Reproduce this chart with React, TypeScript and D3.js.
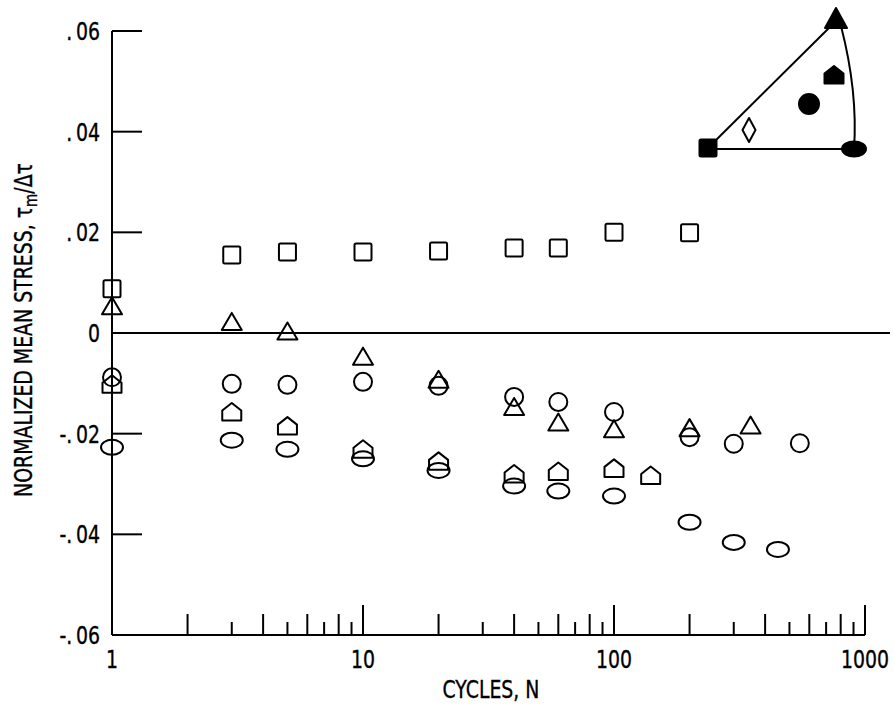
import * as d3 from 'd3';

const W = 894;
const H = 708;

// cycles N and normalized mean stress for each symbol series
const squareN = [1, 3, 5, 10, 20, 40, 60, 100, 200];
const squareV = [0.0088, 0.0155, 0.0161, 0.0161, 0.0163, 0.0169, 0.0169, 0.02, 0.0199];

const triangleN = [1, 3, 5, 10, 20, 40, 60, 100, 200, 350];
const triangleV = [0.0054, 0.0023, 0.0004, -0.0046, -0.0092, -0.0146, -0.0177, -0.019, -0.0188, -0.0183];

const circleN = [1, 3, 5, 10, 20, 40, 60, 100, 200, 300, 550];
const circleV = [-0.0088, -0.0101, -0.0103, -0.0097, -0.0105, -0.0127, -0.0137, -0.0157, -0.0207, -0.022, -0.0219];

const houseN = [1, 3, 5, 10, 20, 40, 60, 100, 140];
const houseV = [-0.0102, -0.0157, -0.0185, -0.0231, -0.0255, -0.028, -0.0275, -0.0269, -0.0283];

const ellipseN = [1, 3, 5, 10, 20, 40, 60, 100, 200, 300, 450];
const ellipseV = [-0.0227, -0.0213, -0.0231, -0.025, -0.0273, -0.0304, -0.0314, -0.0324, -0.0376, -0.0416, -0.043];

const xTickLabels = ['1', '10', '100', '1000'];
const yTickLabels = ['-.\u200906', '-.\u200904', '-.\u200902', '0', '.\u200902', '.\u200904', '.\u200906'];

const FONT = "'DejaVu Sans Condensed', 'Liberation Sans Narrow', sans-serif";
const FS = 25;
const SX = 0.84; // squeeze glyphs to look like the narrow lettering of the original

const xScale = d3.scaleLog().domain([1, 1000]).range([112, 865]);
const yScale = d3.scaleLinear().domain([-0.06, 0.06]).range([635, 31]);

type Shape = 'square' | 'triangle' | 'circle' | 'house' | 'ellipse' | 'diamond';

// narrow text: translated, optionally rotated, then squeezed along the reading direction
function Label({ x, y, anchor = 'middle', rotate = 0, children }: any) {
  return (
    <g transform={`translate(${x},${y}) rotate(${rotate}) scale(${SX},1)`}>
      <text
        textAnchor={anchor}
        fontFamily={FONT}
        fontSize={FS}
        fill="#000"
        stroke="#000"
        strokeWidth={0.35}
      >
        {children}
      </text>
    </g>
  );
}

// draws one marker centred on (x, y)
function Marker({ shape, x, y, filled }: { shape: Shape; x: number; y: number; filled?: boolean }) {
  const fill = filled ? '#000' : 'none';
  const common = { fill, stroke: '#000', strokeWidth: 2, strokeLinejoin: 'round' as const };
  if (shape === 'circle') return <circle cx={x} cy={y} r={filled ? 10 : 9} {...common} />;
  if (shape === 'ellipse') return <ellipse cx={x} cy={y} rx={filled ? 12 : 11} ry={7.5} {...common} />;
  if (shape === 'square') {
    const s = 8.5;
    return <rect x={x - s} y={y - s} width={2 * s} height={2 * s} rx={1.5} {...common} />;
  }
  const p = d3.path();
  if (shape === 'triangle') {
    const w = filled ? 11 : 10;
    const h = filled ? 10 : 8.5;
    p.moveTo(x, y - h);
    p.lineTo(x + w, y + h);
    p.lineTo(x - w, y + h);
    p.closePath();
  } else if (shape === 'house') {
    p.moveTo(x, y - 9);
    p.lineTo(x + 9.5, y - 1.5);
    p.lineTo(x + 9.5, y + 8.5);
    p.lineTo(x - 9.5, y + 8.5);
    p.lineTo(x - 9.5, y - 1.5);
    p.closePath();
  } else {
    p.moveTo(x, y - 12);
    p.lineTo(x + 6.5, y);
    p.lineTo(x, y + 12);
    p.lineTo(x - 6.5, y);
    p.closePath();
  }
  return <path d={p.toString()} {...common} />;
}

const series: { shape: Shape; n: number[]; v: number[] }[] = [
  { shape: 'square', n: squareN, v: squareV },
  { shape: 'triangle', n: triangleN, v: triangleV },
  { shape: 'circle', n: circleN, v: circleV },
  { shape: 'house', n: houseN, v: houseV },
  { shape: 'ellipse', n: ellipseN, v: ellipseV },
];

// inset stress-state diagram, top right
function Inset() {
  const sq = { x: 708, y: 148 };
  const tri = { x: 836, y: 18 };
  const ell = { x: 854, y: 149 };
  const arc = d3.path();
  arc.moveTo(841, 26);
  arc.quadraticCurveTo(858, 92, 854, 149);
  return (
    <g>
      <line x1={sq.x} y1={sq.y} x2={tri.x - 3} y2={tri.y + 6} stroke="#000" strokeWidth={2} />
      <line x1={sq.x} y1={sq.y + 1} x2={ell.x} y2={ell.y} stroke="#000" strokeWidth={2} />
      <path d={arc.toString()} fill="none" stroke="#000" strokeWidth={2} />
      <Marker shape="square" x={sq.x} y={sq.y} filled />
      <Marker shape="triangle" x={tri.x} y={tri.y} filled />
      <Marker shape="ellipse" x={ell.x} y={ell.y} filled />
      <Marker shape="circle" x={809} y={104} filled />
      <Marker shape="house" x={834} y={75} filled />
      <Marker shape="diamond" x={749} y={130} />
    </g>
  );
}

export default function App() {
  const x0 = xScale.range()[0];
  const yBase = yScale.range()[0];
  const yTicks = yScale.ticks(6);
  const xTicks = xScale.ticks();
  const decades = [1, 10, 100, 1000];

  return (
    <svg width={W} height={H} style={{ position: 'absolute', left: 0, top: 0, background: '#fff' }}>
      {/* y axis */}
      <line x1={x0} y1={yScale(0.06)} x2={x0} y2={yBase} stroke="#000" strokeWidth={2} />
      {yTicks.map((t, i) => (
        <g key={i}>
          <line
            x1={x0}
            x2={Math.abs(t) < 1e-9 ? 890 : x0 + 30}
            y1={yScale(t)}
            y2={yScale(t)}
            stroke="#000"
            strokeWidth={2}
          />
          <Label x={100} y={yScale(t) + 9} anchor="end">
            {yTickLabels[i]}
          </Label>
        </g>
      ))}

      {/* x axis */}
      <line x1={x0} y1={yBase} x2={xScale(1000)} y2={yBase} stroke="#000" strokeWidth={2} />
      {xTicks.map((t, i) => {
        const d = Math.round(t / Math.pow(10, Math.floor(Math.log10(t) + 1e-9)));
        const len = d === 1 ? 30 : d % 2 === 0 ? 21 : 13;
        return (
          <line
            key={i}
            x1={xScale(t)}
            x2={xScale(t)}
            y1={yBase}
            y2={yBase - len}
            stroke="#000"
            strokeWidth={2}
          />
        );
      })}
      {decades.map((t, i) => (
        <Label key={t} x={xScale(t)} y={668}>
          {xTickLabels[i]}
        </Label>
      ))}
      <Label x={491} y={698}>CYCLES, N</Label>
      <Label x={32} y={330} rotate={-90}>
        NORMALIZED MEAN STRESS, τ
        <tspan dy={5} fontSize={18}>m</tspan>
        <tspan dy={-5}>/Δτ</tspan>
      </Label>

      {/* data */}
      {series.map((s) =>
        s.n.map((n, i) => (
          <Marker key={s.shape + i} shape={s.shape} x={xScale(n)} y={yScale(s.v[i])} />
        ))
      )}

      <Inset />
    </svg>
  );
}
